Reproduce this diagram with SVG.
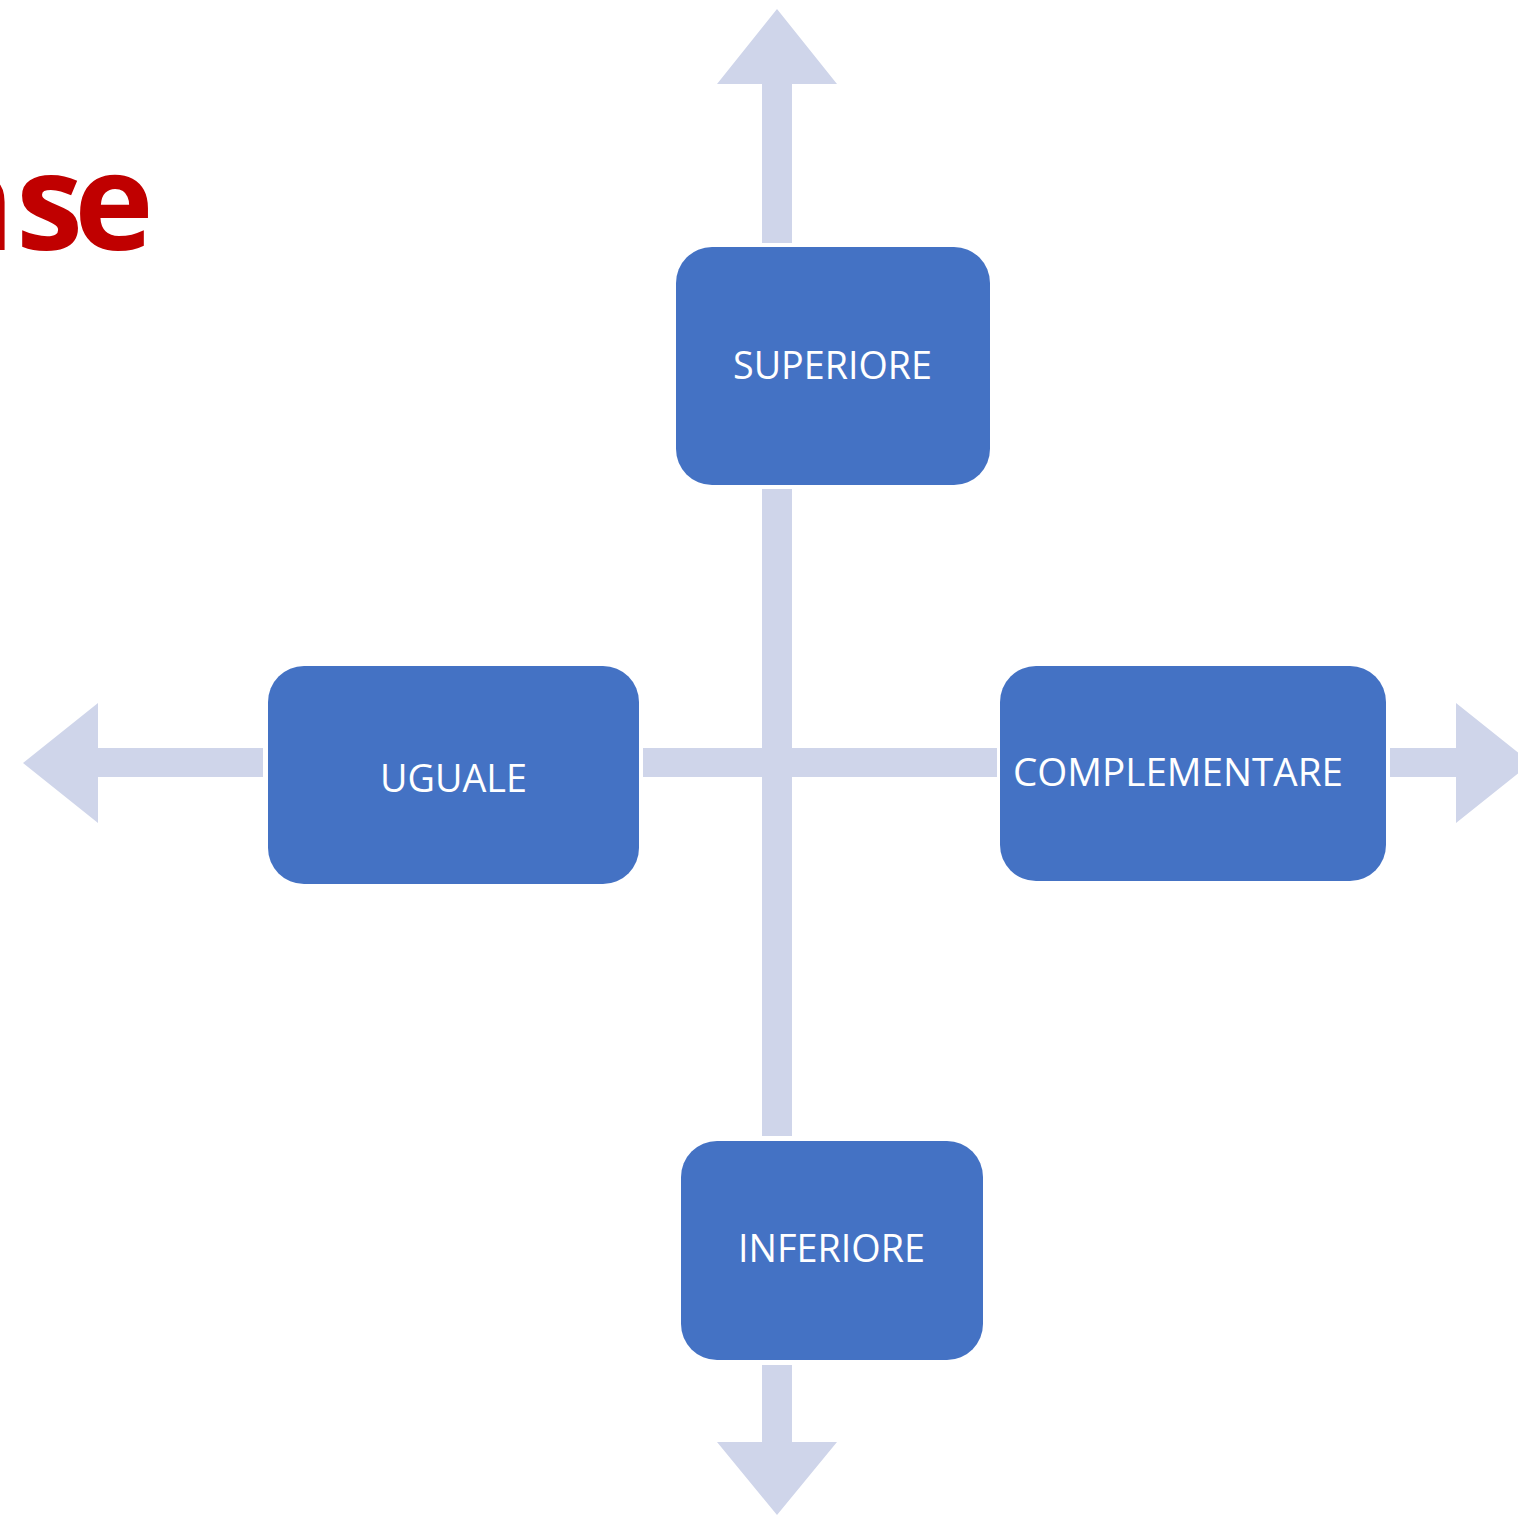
<svg xmlns="http://www.w3.org/2000/svg" width="1518" height="1515" viewBox="0 0 1518 1515">
<style>
.node{fill:#4472C4}
.lbl{fill:#FFFFFF;font-family:"Open Sans","Liberation Sans",sans-serif;font-size:38px}
.arr{fill:#CFD5EA}
.title{fill:#C00000;font-family:"Open Sans","Liberation Sans",sans-serif;font-weight:bold;font-size:135px}
</style>
<rect width="1518" height="1515" fill="#FFFFFF"/>
<text class="title" x="-74 16 74" y="250">nse</text>
<g id="connectors">
<polygon class="arr" points="777,9 837,84 792,84 792,243 762,243 762,84 717,84"/>
<rect class="arr" x="762" y="489" width="30" height="647"/>
<polygon class="arr" points="762,1365 792,1365 792,1442 837,1442 777,1515 717,1442 762,1442"/>
<polygon class="arr" points="23,763 98,703 98,748 263,748 263,777 98,777 98,823"/>
<rect class="arr" x="643" y="748" width="354" height="29"/>
<polygon class="arr" points="1390,748 1456,748 1456,703 1531,763 1456,823 1456,777 1390,777"/>
</g>
<g id="superiore">
<rect class="node" x="676" y="247" width="314" height="238" rx="36"/>
<text class="lbl" x="733" y="379" textLength="199" lengthAdjust="spacingAndGlyphs">SUPERIORE</text>
</g>
<g id="uguale">
<rect class="node" x="268" y="666" width="371" height="218" rx="36"/>
<text class="lbl" x="380" y="792" textLength="147" lengthAdjust="spacingAndGlyphs">UGUALE</text>
</g>
<g id="complementare">
<rect class="node" x="1000" y="666" width="386" height="215" rx="36"/>
<text class="lbl" x="1013" y="786" textLength="330" lengthAdjust="spacingAndGlyphs">COMPLEMENTARE</text>
</g>
<g id="inferiore">
<rect class="node" x="681" y="1141" width="302" height="219" rx="36"/>
<text class="lbl" x="738" y="1262" textLength="187" lengthAdjust="spacingAndGlyphs">INFERIORE</text>
</g>
</svg>
